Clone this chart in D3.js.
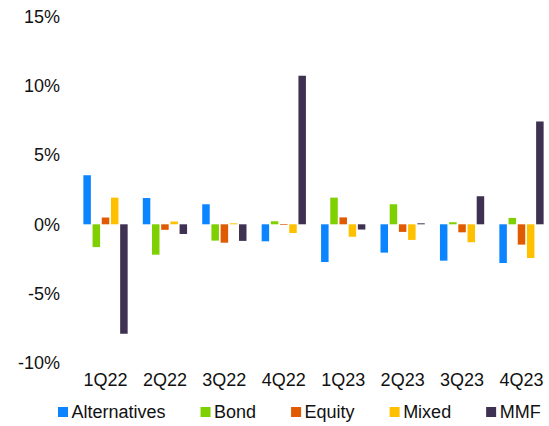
<!DOCTYPE html>
<html>
<head>
<meta charset="utf-8">
<script src="https://cdn.jsdelivr.net/npm/d3@7"></script>
<style>
  html, body { margin: 0; padding: 0; background: #fff; }
  svg { display: block; font-family: "Liberation Sans", Arial, sans-serif; }
</style>
</head>
<body>
<div id="chart"></div>
<script>
const QUARTERS = ["1Q22", "2Q22", "3Q22", "4Q22", "1Q23", "2Q23", "3Q23", "4Q23"];
const SERIES = ["Alternatives", "Bond", "Equity", "Mixed", "MMF"];
const COLORS = ["#0a84ff", "#7ed000", "#df5a00", "#ffc000", "#3f3152"];

const ALTERNATIVES = [3.55, 1.9, 1.45, -1.23, -2.73, -2.05, -2.63, -2.8];
const BOND = [-1.65, -2.2, -1.18, 0.22, 1.93, 1.45, 0.15, 0.46];
const EQUITY = [0.49, -0.4, -1.33, -0.05, 0.5, -0.55, -0.58, -1.47];
const MIXED = [1.93, 0.2, 0.07, -0.63, -0.9, -1.13, -1.3, -2.44];
const MMF = [-7.92, -0.7, -1.2, 10.75, -0.38, 0.07, 2.03, 7.44];

const Y_TICKS = [-10, -5, 0, 5, 10, 15];

const width = 549;
const height = 426;

const values = [ALTERNATIVES, BOND, EQUITY, MIXED, MMF];
const rows = QUARTERS.map((q, i) => ({
  quarter: q,
  bars: SERIES.map((s, j) => ({ series: s, value: values[j][i] }))
}));

const svg = d3.select("#chart").append("svg")
  .attr("width", width)
  .attr("height", height);

const y = d3.scaleLinear().domain([-10, 15]).range([362.5, 17]);

const x0 = d3.scaleBand()
  .domain(QUARTERS)
  .range([75.8, 551.2])
  .paddingInner(0.255)
  .paddingOuter(0.1275);

const x1 = d3.scaleBand()
  .domain(SERIES)
  .range([0, x0.bandwidth()])
  .paddingInner(0.185);

const color = d3.scaleOrdinal().domain(SERIES).range(COLORS);

// y axis labels only, no line
const yAxis = svg.append("g")
  .attr("transform", "translate(60,0)")
  .call(d3.axisLeft(y).tickValues(Y_TICKS).tickSize(0).tickPadding(0).tickFormat((d) => `${d}%`));
yAxis.select(".domain").remove();
yAxis.selectAll("text")
  .attr("font-size", 18)
  .attr("font-family", "Liberation Sans, Arial, sans-serif")
  .attr("fill", "#111");

// bars
svg.append("g")
  .selectAll("g")
  .data(rows)
  .join("g")
  .attr("transform", (d) => `translate(${x0(d.quarter)},0)`)
  .selectAll("rect")
  .data((d) => d.bars)
  .join("rect")
  .attr("x", (d) => x1(d.series))
  .attr("width", x1.bandwidth())
  .attr("y", (d) => y(Math.max(0, d.value)))
  .attr("height", (d) => Math.abs(y(d.value) - y(0)))
  .attr("fill", (d) => color(d.series));

// quarter labels
const xAxis = svg.append("g")
  .attr("transform", "translate(0,368)")
  .call(d3.axisBottom(x0).tickSize(0).tickPadding(0));
xAxis.select(".domain").remove();
xAxis.selectAll("text")
  .attr("dy", "0.32em")
  .attr("y", 12)
  .attr("font-size", 18)
  .attr("font-family", "Liberation Sans, Arial, sans-serif")
  .attr("fill", "#111");

// legend
const legend = svg.append("g").attr("transform", "translate(58,412)");
let lx = 0;
SERIES.forEach((s) => {
  const item = legend.append("g").attr("transform", `translate(${lx},0)`);
  item.append("rect")
    .attr("x", 0).attr("y", -5)
    .attr("width", 10).attr("height", 10)
    .attr("fill", color(s));
  const t = item.append("text")
    .attr("x", 13.5).attr("dy", "0.35em")
    .attr("font-size", 18)
    .attr("fill", "#111")
    .text(s);
  lx += 13.5 + t.node().getComputedTextLength() + 35;
});
</script>
</body>
</html>
